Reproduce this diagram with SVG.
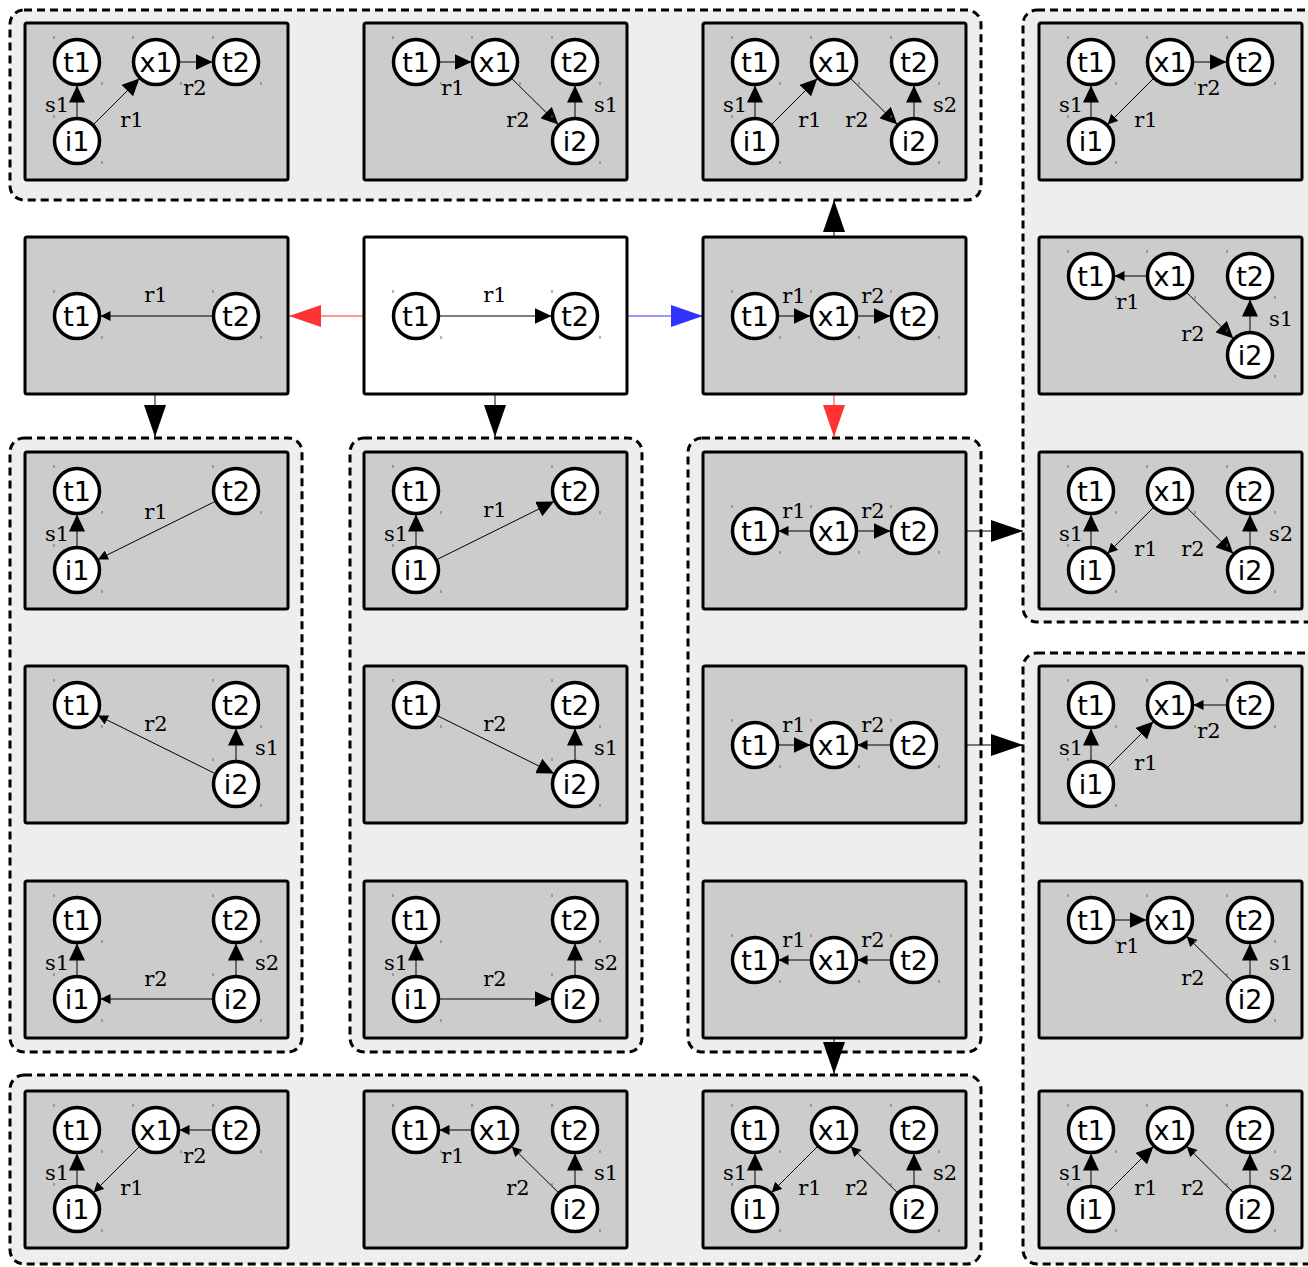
<svg xmlns="http://www.w3.org/2000/svg" width="1308" height="1267" viewBox="0 0 1308 1267">
<style>
.cl{fill:#eeeeee;stroke:#000;stroke-width:3;stroke-dasharray:8,5}
.pn{fill:#cccccc;stroke:#000;stroke-width:3}
.pw{fill:#ffffff;stroke:#000;stroke-width:3}
.n circle{fill:#fff;stroke:#000;stroke-width:3.5}
.n text{font-family:"DejaVu Sans","Noto Sans",sans-serif;font-size:27px;text-anchor:middle;fill:#000}
.tk{stroke:#666;stroke-width:1;fill:none}
.e{stroke:#000;stroke-width:1;fill:none}
.b{marker-end:url(#hb)}
.s{marker-end:url(#hs)}
.lb{font-family:"DejaVu Serif","Liberation Serif",serif;font-size:21px;text-anchor:middle;fill:#000}
.c{stroke-width:1;fill:none}
</style>
<defs>
<marker id="hb" markerUnits="userSpaceOnUse" viewBox="0 0 17 16" refX="17" refY="8" markerWidth="17" markerHeight="16" orient="auto"><path d="M0,0 L17,8 L0,16 z" fill="#000"/></marker>
<marker id="hs" markerUnits="userSpaceOnUse" viewBox="0 0 10 10" refX="10" refY="5" markerWidth="10" markerHeight="10" orient="auto"><path d="M0,0 L10,5 L0,10 z" fill="#000"/></marker>
<marker id="hk" markerUnits="userSpaceOnUse" viewBox="0 0 32 22" refX="32" refY="11" markerWidth="32" markerHeight="22" orient="auto"><path d="M0,0 L32,11 L0,22 z" fill="#000"/></marker>
<marker id="hr" markerUnits="userSpaceOnUse" viewBox="0 0 32 22" refX="32" refY="11" markerWidth="32" markerHeight="22" orient="auto"><path d="M0,0 L32,11 L0,22 z" fill="#ff3333"/></marker>
<marker id="hu" markerUnits="userSpaceOnUse" viewBox="0 0 32 22" refX="32" refY="11" markerWidth="32" markerHeight="22" orient="auto"><path d="M0,0 L32,11 L0,22 z" fill="#3333ff"/></marker>
</defs>

<g id="clusters">
<rect id="cl-top" class="cl" x="10" y="10" width="971" height="190" rx="14"/>
<rect id="cl-right1" class="cl" x="1023" y="10" width="300" height="612" rx="14"/>
<rect id="cl-left" class="cl" x="10" y="438" width="292" height="614" rx="14"/>
<rect id="cl-mid" class="cl" x="350" y="438" width="292" height="614" rx="14"/>
<rect id="cl-x1" class="cl" x="688" y="438" width="293" height="614" rx="14"/>
<rect id="cl-right2" class="cl" x="1023" y="653" width="300" height="611" rx="14"/>
<rect id="cl-bottom" class="cl" x="10" y="1075" width="971" height="189" rx="14"/>
</g>

<g id="connectors">
<line class="c" x1="364" y1="316" x2="289" y2="316" stroke="#ff3333" marker-end="url(#hr)"/>
<line class="c" x1="627" y1="316" x2="703" y2="316" stroke="#3333ff" marker-end="url(#hu)"/>
<line class="c" x1="495" y1="394" x2="495" y2="437" stroke="#000" marker-end="url(#hk)"/>
<line class="c" x1="155" y1="394" x2="155" y2="437" stroke="#000" marker-end="url(#hk)"/>
<line class="c" x1="834" y1="237" x2="834" y2="200" stroke="#000" marker-end="url(#hk)"/>
<line class="c" x1="834" y1="394" x2="834" y2="437" stroke="#ff3333" marker-end="url(#hr)"/>
<line class="c" x1="966" y1="531" x2="1023" y2="531" stroke="#000" marker-end="url(#hk)"/>
<line class="c" x1="966" y1="745" x2="1023" y2="745" stroke="#000" marker-end="url(#hk)"/>
<line class="c" x1="834" y1="1038" x2="834" y2="1074" stroke="#000" marker-end="url(#hk)"/>
</g>

<!-- top row -->
<g id="p-top0" transform="translate(25,23)">
<rect class="pn" width="263" height="157" rx="2"/>
<g class="edges"><path class="e b" d="M52,94.5 L52,62.5"/><path class="e b" d="M68.6,101.4 L114.4,55.6"/><path class="e b" d="M154.5,39 L187.5,39"/></g>
<text class="lb" x="32" y="88.5">s1</text><text class="lb" x="107" y="103.5">r1</text><text class="lb" x="170" y="71.5">r2</text>
<g id="p-top0-t1" class="n" transform="translate(52,39)"><circle r="22.5"/><path class="tk" d="M-23,-26v3M25,20v3"/><text y="10">t1</text></g>
<g id="p-top0-x1" class="n" transform="translate(131,39)"><circle r="22.5"/><path class="tk" d="M-23,-26v3M25,20v3"/><text y="10">x1</text></g>
<g id="p-top0-t2" class="n" transform="translate(211,39)"><circle r="22.5"/><path class="tk" d="M-23,-26v3M25,20v3"/><text y="10">t2</text></g>
<g id="p-top0-i1" class="n" transform="translate(52,118)"><circle r="22.5"/><path class="tk" d="M-23,-26v3M25,20v3"/><text y="10">i1</text></g>
</g>

<g id="p-top1" transform="translate(364,23)">
<rect class="pn" width="263" height="157" rx="2"/>
<g class="edges"><path class="e b" d="M75.5,39 L107.5,39"/><path class="e b" d="M147.7,55.5 L194.3,101.5"/><path class="e b" d="M211,94.5 L211,62.5"/></g>
<text class="lb" x="89" y="71.5">r1</text><text class="lb" x="154" y="103.5">r2</text><text class="lb" x="242" y="88.5">s1</text>
<g id="p-top1-t1" class="n" transform="translate(52,39)"><circle r="22.5"/><path class="tk" d="M-23,-26v3M25,20v3"/><text y="10">t1</text></g>
<g id="p-top1-x1" class="n" transform="translate(131,39)"><circle r="22.5"/><path class="tk" d="M-23,-26v3M25,20v3"/><text y="10">x1</text></g>
<g id="p-top1-t2" class="n" transform="translate(211,39)"><circle r="22.5"/><path class="tk" d="M-23,-26v3M25,20v3"/><text y="10">t2</text></g>
<g id="p-top1-i2" class="n" transform="translate(211,118)"><circle r="22.5"/><path class="tk" d="M-23,-26v3M25,20v3"/><text y="10">i2</text></g>
</g>

<g id="p-top2" transform="translate(703,23)">
<rect class="pn" width="263" height="157" rx="2"/>
<g class="edges"><path class="e b" d="M52,94.5 L52,62.5"/><path class="e b" d="M68.6,101.4 L114.4,55.6"/><path class="e b" d="M147.7,55.5 L194.3,101.5"/><path class="e b" d="M211,94.5 L211,62.5"/></g>
<text class="lb" x="32" y="88.5">s1</text><text class="lb" x="107" y="103.5">r1</text><text class="lb" x="154" y="103.5">r2</text><text class="lb" x="242" y="88.5">s2</text>
<g id="p-top2-t1" class="n" transform="translate(52,39)"><circle r="22.5"/><path class="tk" d="M-23,-26v3M25,20v3"/><text y="10">t1</text></g>
<g id="p-top2-x1" class="n" transform="translate(131,39)"><circle r="22.5"/><path class="tk" d="M-23,-26v3M25,20v3"/><text y="10">x1</text></g>
<g id="p-top2-t2" class="n" transform="translate(211,39)"><circle r="22.5"/><path class="tk" d="M-23,-26v3M25,20v3"/><text y="10">t2</text></g>
<g id="p-top2-i1" class="n" transform="translate(52,118)"><circle r="22.5"/><path class="tk" d="M-23,-26v3M25,20v3"/><text y="10">i1</text></g>
<g id="p-top2-i2" class="n" transform="translate(211,118)"><circle r="22.5"/><path class="tk" d="M-23,-26v3M25,20v3"/><text y="10">i2</text></g>
</g>

<!-- right cluster 1 -->
<g id="p-r1a" transform="translate(1039,23)">
<rect class="pn" width="263" height="157" rx="2"/>
<g class="edges"><path class="e b" d="M52,94.5 L52,62.5"/><path class="e s" d="M114.4,55.6 L68.6,101.4"/><path class="e b" d="M154.5,39 L187.5,39"/></g>
<text class="lb" x="32" y="88.5">s1</text><text class="lb" x="107" y="103.5">r1</text><text class="lb" x="170" y="71.5">r2</text>
<g id="p-r1a-t1" class="n" transform="translate(52,39)"><circle r="22.5"/><path class="tk" d="M-23,-26v3M25,20v3"/><text y="10">t1</text></g>
<g id="p-r1a-x1" class="n" transform="translate(131,39)"><circle r="22.5"/><path class="tk" d="M-23,-26v3M25,20v3"/><text y="10">x1</text></g>
<g id="p-r1a-t2" class="n" transform="translate(211,39)"><circle r="22.5"/><path class="tk" d="M-23,-26v3M25,20v3"/><text y="10">t2</text></g>
<g id="p-r1a-i1" class="n" transform="translate(52,118)"><circle r="22.5"/><path class="tk" d="M-23,-26v3M25,20v3"/><text y="10">i1</text></g>
</g>

<g id="p-r1b" transform="translate(1039,237)">
<rect class="pn" width="263" height="157" rx="2"/>
<g class="edges"><path class="e s" d="M107.5,39 L75.5,39"/><path class="e b" d="M147.7,55.5 L194.3,101.5"/><path class="e b" d="M211,94.5 L211,62.5"/></g>
<text class="lb" x="89" y="71.5">r1</text><text class="lb" x="154" y="103.5">r2</text><text class="lb" x="242" y="88.5">s1</text>
<g id="p-r1b-t1" class="n" transform="translate(52,39)"><circle r="22.5"/><path class="tk" d="M-23,-26v3M25,20v3"/><text y="10">t1</text></g>
<g id="p-r1b-x1" class="n" transform="translate(131,39)"><circle r="22.5"/><path class="tk" d="M-23,-26v3M25,20v3"/><text y="10">x1</text></g>
<g id="p-r1b-t2" class="n" transform="translate(211,39)"><circle r="22.5"/><path class="tk" d="M-23,-26v3M25,20v3"/><text y="10">t2</text></g>
<g id="p-r1b-i2" class="n" transform="translate(211,118)"><circle r="22.5"/><path class="tk" d="M-23,-26v3M25,20v3"/><text y="10">i2</text></g>
</g>

<g id="p-r1c" transform="translate(1039,452)">
<rect class="pn" width="263" height="157" rx="2"/>
<g class="edges"><path class="e b" d="M52,94.5 L52,62.5"/><path class="e s" d="M114.4,55.6 L68.6,101.4"/><path class="e b" d="M147.7,55.5 L194.3,101.5"/><path class="e b" d="M211,94.5 L211,62.5"/></g>
<text class="lb" x="32" y="88.5">s1</text><text class="lb" x="107" y="103.5">r1</text><text class="lb" x="154" y="103.5">r2</text><text class="lb" x="242" y="88.5">s2</text>
<g id="p-r1c-t1" class="n" transform="translate(52,39)"><circle r="22.5"/><path class="tk" d="M-23,-26v3M25,20v3"/><text y="10">t1</text></g>
<g id="p-r1c-x1" class="n" transform="translate(131,39)"><circle r="22.5"/><path class="tk" d="M-23,-26v3M25,20v3"/><text y="10">x1</text></g>
<g id="p-r1c-t2" class="n" transform="translate(211,39)"><circle r="22.5"/><path class="tk" d="M-23,-26v3M25,20v3"/><text y="10">t2</text></g>
<g id="p-r1c-i1" class="n" transform="translate(52,118)"><circle r="22.5"/><path class="tk" d="M-23,-26v3M25,20v3"/><text y="10">i1</text></g>
<g id="p-r1c-i2" class="n" transform="translate(211,118)"><circle r="22.5"/><path class="tk" d="M-23,-26v3M25,20v3"/><text y="10">i2</text></g>
</g>

<!-- middle row -->
<g id="p-mid0" transform="translate(25,237)">
<rect class="pn" width="263" height="157" rx="2"/>
<g class="edges"><path class="e s" d="M187.5,79 L75.5,79"/></g>
<text class="lb" x="131" y="64.5">r1</text>
<g id="p-mid0-t1" class="n" transform="translate(52,79)"><circle r="22.5"/><path class="tk" d="M-23,-26v3M25,20v3"/><text y="10">t1</text></g>
<g id="p-mid0-t2" class="n" transform="translate(211,79)"><circle r="22.5"/><path class="tk" d="M-23,-26v3M25,20v3"/><text y="10">t2</text></g>
</g>

<g id="p-main" transform="translate(364,237)">
<rect class="pw" width="263" height="157" rx="2"/>
<g class="edges"><path class="e b" d="M75.5,79 L187.5,79"/></g>
<text class="lb" x="131" y="64.5">r1</text>
<g id="p-main-t1" class="n" transform="translate(52,79)"><circle r="22.5"/><path class="tk" d="M-23,-26v3M25,20v3"/><text y="10">t1</text></g>
<g id="p-main-t2" class="n" transform="translate(211,79)"><circle r="22.5"/><path class="tk" d="M-23,-26v3M25,20v3"/><text y="10">t2</text></g>
</g>

<g id="p-mid2" transform="translate(703,237)">
<rect class="pn" width="263" height="157" rx="2"/>
<g class="edges"><path class="e b" d="M75.5,79 L107.5,79"/><path class="e b" d="M154.5,79 L187.5,79"/></g>
<text class="lb" x="91" y="65.5">r1</text><text class="lb" x="170" y="65.5">r2</text>
<g id="p-mid2-t1" class="n" transform="translate(52,79)"><circle r="22.5"/><path class="tk" d="M-23,-26v3M25,20v3"/><text y="10">t1</text></g>
<g id="p-mid2-x1" class="n" transform="translate(131,79)"><circle r="22.5"/><path class="tk" d="M-23,-26v3M25,20v3"/><text y="10">x1</text></g>
<g id="p-mid2-t2" class="n" transform="translate(211,79)"><circle r="22.5"/><path class="tk" d="M-23,-26v3M25,20v3"/><text y="10">t2</text></g>
</g>

<!-- left cluster -->
<g id="p-L2" transform="translate(25,452)">
<rect class="pn" width="263" height="157" rx="2"/>
<g class="edges"><path class="e b" d="M52,94.5 L52,62.5"/><path class="e s" d="M190,49.5 L73,107.5"/></g>
<text class="lb" x="32" y="88.5">s1</text><text class="lb" x="131" y="66.5">r1</text>
<g id="p-L2-t1" class="n" transform="translate(52,39)"><circle r="22.5"/><path class="tk" d="M-23,-26v3M25,20v3"/><text y="10">t1</text></g>
<g id="p-L2-t2" class="n" transform="translate(211,39)"><circle r="22.5"/><path class="tk" d="M-23,-26v3M25,20v3"/><text y="10">t2</text></g>
<g id="p-L2-i1" class="n" transform="translate(52,118)"><circle r="22.5"/><path class="tk" d="M-23,-26v3M25,20v3"/><text y="10">i1</text></g>
</g>

<g id="p-L3" transform="translate(25,666)">
<rect class="pn" width="263" height="157" rx="2"/>
<g class="edges"><path class="e s" d="M190,107.5 L73,49.5"/><path class="e b" d="M211,94.5 L211,62.5"/></g>
<text class="lb" x="131" y="64.5">r2</text><text class="lb" x="242" y="88.5">s1</text>
<g id="p-L3-t1" class="n" transform="translate(52,39)"><circle r="22.5"/><path class="tk" d="M-23,-26v3M25,20v3"/><text y="10">t1</text></g>
<g id="p-L3-t2" class="n" transform="translate(211,39)"><circle r="22.5"/><path class="tk" d="M-23,-26v3M25,20v3"/><text y="10">t2</text></g>
<g id="p-L3-i2" class="n" transform="translate(211,118)"><circle r="22.5"/><path class="tk" d="M-23,-26v3M25,20v3"/><text y="10">i2</text></g>
</g>

<g id="p-L4" transform="translate(25,881)">
<rect class="pn" width="263" height="157" rx="2"/>
<g class="edges"><path class="e b" d="M52,94.5 L52,62.5"/><path class="e b" d="M211,94.5 L211,62.5"/><path class="e s" d="M187.5,118 L75.5,118"/></g>
<text class="lb" x="32" y="88.5">s1</text><text class="lb" x="242" y="88.5">s2</text><text class="lb" x="131" y="104.5">r2</text>
<g id="p-L4-t1" class="n" transform="translate(52,39)"><circle r="22.5"/><path class="tk" d="M-23,-26v3M25,20v3"/><text y="10">t1</text></g>
<g id="p-L4-t2" class="n" transform="translate(211,39)"><circle r="22.5"/><path class="tk" d="M-23,-26v3M25,20v3"/><text y="10">t2</text></g>
<g id="p-L4-i1" class="n" transform="translate(52,118)"><circle r="22.5"/><path class="tk" d="M-23,-26v3M25,20v3"/><text y="10">i1</text></g>
<g id="p-L4-i2" class="n" transform="translate(211,118)"><circle r="22.5"/><path class="tk" d="M-23,-26v3M25,20v3"/><text y="10">i2</text></g>
</g>

<!-- middle cluster -->
<g id="p-M2" transform="translate(364,452)">
<rect class="pn" width="263" height="157" rx="2"/>
<g class="edges"><path class="e b" d="M52,94.5 L52,62.5"/><path class="e b" d="M73,107.5 L190,49.5"/></g>
<text class="lb" x="32" y="88.5">s1</text><text class="lb" x="131" y="64.5">r1</text>
<g id="p-M2-t1" class="n" transform="translate(52,39)"><circle r="22.5"/><path class="tk" d="M-23,-26v3M25,20v3"/><text y="10">t1</text></g>
<g id="p-M2-t2" class="n" transform="translate(211,39)"><circle r="22.5"/><path class="tk" d="M-23,-26v3M25,20v3"/><text y="10">t2</text></g>
<g id="p-M2-i1" class="n" transform="translate(52,118)"><circle r="22.5"/><path class="tk" d="M-23,-26v3M25,20v3"/><text y="10">i1</text></g>
</g>

<g id="p-M3" transform="translate(364,666)">
<rect class="pn" width="263" height="157" rx="2"/>
<g class="edges"><path class="e b" d="M73,49.5 L190,107.5"/><path class="e b" d="M211,94.5 L211,62.5"/></g>
<text class="lb" x="131" y="64.5">r2</text><text class="lb" x="242" y="88.5">s1</text>
<g id="p-M3-t1" class="n" transform="translate(52,39)"><circle r="22.5"/><path class="tk" d="M-23,-26v3M25,20v3"/><text y="10">t1</text></g>
<g id="p-M3-t2" class="n" transform="translate(211,39)"><circle r="22.5"/><path class="tk" d="M-23,-26v3M25,20v3"/><text y="10">t2</text></g>
<g id="p-M3-i2" class="n" transform="translate(211,118)"><circle r="22.5"/><path class="tk" d="M-23,-26v3M25,20v3"/><text y="10">i2</text></g>
</g>

<g id="p-M4" transform="translate(364,881)">
<rect class="pn" width="263" height="157" rx="2"/>
<g class="edges"><path class="e b" d="M52,94.5 L52,62.5"/><path class="e b" d="M211,94.5 L211,62.5"/><path class="e b" d="M75.5,118 L187.5,118"/></g>
<text class="lb" x="32" y="88.5">s1</text><text class="lb" x="242" y="88.5">s2</text><text class="lb" x="131" y="104.5">r2</text>
<g id="p-M4-t1" class="n" transform="translate(52,39)"><circle r="22.5"/><path class="tk" d="M-23,-26v3M25,20v3"/><text y="10">t1</text></g>
<g id="p-M4-t2" class="n" transform="translate(211,39)"><circle r="22.5"/><path class="tk" d="M-23,-26v3M25,20v3"/><text y="10">t2</text></g>
<g id="p-M4-i1" class="n" transform="translate(52,118)"><circle r="22.5"/><path class="tk" d="M-23,-26v3M25,20v3"/><text y="10">i1</text></g>
<g id="p-M4-i2" class="n" transform="translate(211,118)"><circle r="22.5"/><path class="tk" d="M-23,-26v3M25,20v3"/><text y="10">i2</text></g>
</g>

<!-- x1 cluster -->
<g id="p-X2" transform="translate(703,452)">
<rect class="pn" width="263" height="157" rx="2"/>
<g class="edges"><path class="e s" d="M107.5,79 L75.5,79"/><path class="e b" d="M154.5,79 L187.5,79"/></g>
<text class="lb" x="91" y="65.5">r1</text><text class="lb" x="170" y="65.5">r2</text>
<g id="p-X2-t1" class="n" transform="translate(52,79)"><circle r="22.5"/><path class="tk" d="M-23,-26v3M25,20v3"/><text y="10">t1</text></g>
<g id="p-X2-x1" class="n" transform="translate(131,79)"><circle r="22.5"/><path class="tk" d="M-23,-26v3M25,20v3"/><text y="10">x1</text></g>
<g id="p-X2-t2" class="n" transform="translate(211,79)"><circle r="22.5"/><path class="tk" d="M-23,-26v3M25,20v3"/><text y="10">t2</text></g>
</g>

<g id="p-X3" transform="translate(703,666)">
<rect class="pn" width="263" height="157" rx="2"/>
<g class="edges"><path class="e b" d="M75.5,79 L107.5,79"/><path class="e s" d="M187.5,79 L154.5,79"/></g>
<text class="lb" x="91" y="65.5">r1</text><text class="lb" x="170" y="65.5">r2</text>
<g id="p-X3-t1" class="n" transform="translate(52,79)"><circle r="22.5"/><path class="tk" d="M-23,-26v3M25,20v3"/><text y="10">t1</text></g>
<g id="p-X3-x1" class="n" transform="translate(131,79)"><circle r="22.5"/><path class="tk" d="M-23,-26v3M25,20v3"/><text y="10">x1</text></g>
<g id="p-X3-t2" class="n" transform="translate(211,79)"><circle r="22.5"/><path class="tk" d="M-23,-26v3M25,20v3"/><text y="10">t2</text></g>
</g>

<g id="p-X4" transform="translate(703,881)">
<rect class="pn" width="263" height="157" rx="2"/>
<g class="edges"><path class="e s" d="M107.5,79 L75.5,79"/><path class="e s" d="M187.5,79 L154.5,79"/></g>
<text class="lb" x="91" y="65.5">r1</text><text class="lb" x="170" y="65.5">r2</text>
<g id="p-X4-t1" class="n" transform="translate(52,79)"><circle r="22.5"/><path class="tk" d="M-23,-26v3M25,20v3"/><text y="10">t1</text></g>
<g id="p-X4-x1" class="n" transform="translate(131,79)"><circle r="22.5"/><path class="tk" d="M-23,-26v3M25,20v3"/><text y="10">x1</text></g>
<g id="p-X4-t2" class="n" transform="translate(211,79)"><circle r="22.5"/><path class="tk" d="M-23,-26v3M25,20v3"/><text y="10">t2</text></g>
</g>

<!-- right cluster 2 -->
<g id="p-r2a" transform="translate(1039,666)">
<rect class="pn" width="263" height="157" rx="2"/>
<g class="edges"><path class="e b" d="M52,94.5 L52,62.5"/><path class="e b" d="M68.6,101.4 L114.4,55.6"/><path class="e s" d="M187.5,39 L154.5,39"/></g>
<text class="lb" x="32" y="88.5">s1</text><text class="lb" x="107" y="103.5">r1</text><text class="lb" x="170" y="71.5">r2</text>
<g id="p-r2a-t1" class="n" transform="translate(52,39)"><circle r="22.5"/><path class="tk" d="M-23,-26v3M25,20v3"/><text y="10">t1</text></g>
<g id="p-r2a-x1" class="n" transform="translate(131,39)"><circle r="22.5"/><path class="tk" d="M-23,-26v3M25,20v3"/><text y="10">x1</text></g>
<g id="p-r2a-t2" class="n" transform="translate(211,39)"><circle r="22.5"/><path class="tk" d="M-23,-26v3M25,20v3"/><text y="10">t2</text></g>
<g id="p-r2a-i1" class="n" transform="translate(52,118)"><circle r="22.5"/><path class="tk" d="M-23,-26v3M25,20v3"/><text y="10">i1</text></g>
</g>

<g id="p-r2b" transform="translate(1039,881)">
<rect class="pn" width="263" height="157" rx="2"/>
<g class="edges"><path class="e b" d="M75.5,39 L107.5,39"/><path class="e s" d="M194.3,101.5 L147.7,55.5"/><path class="e b" d="M211,94.5 L211,62.5"/></g>
<text class="lb" x="89" y="71.5">r1</text><text class="lb" x="154" y="103.5">r2</text><text class="lb" x="242" y="88.5">s1</text>
<g id="p-r2b-t1" class="n" transform="translate(52,39)"><circle r="22.5"/><path class="tk" d="M-23,-26v3M25,20v3"/><text y="10">t1</text></g>
<g id="p-r2b-x1" class="n" transform="translate(131,39)"><circle r="22.5"/><path class="tk" d="M-23,-26v3M25,20v3"/><text y="10">x1</text></g>
<g id="p-r2b-t2" class="n" transform="translate(211,39)"><circle r="22.5"/><path class="tk" d="M-23,-26v3M25,20v3"/><text y="10">t2</text></g>
<g id="p-r2b-i2" class="n" transform="translate(211,118)"><circle r="22.5"/><path class="tk" d="M-23,-26v3M25,20v3"/><text y="10">i2</text></g>
</g>

<g id="p-r2c" transform="translate(1039,1091)">
<rect class="pn" width="263" height="157" rx="2"/>
<g class="edges"><path class="e b" d="M52,94.5 L52,62.5"/><path class="e b" d="M68.6,101.4 L114.4,55.6"/><path class="e s" d="M194.3,101.5 L147.7,55.5"/><path class="e b" d="M211,94.5 L211,62.5"/></g>
<text class="lb" x="32" y="88.5">s1</text><text class="lb" x="107" y="103.5">r1</text><text class="lb" x="154" y="103.5">r2</text><text class="lb" x="242" y="88.5">s2</text>
<g id="p-r2c-t1" class="n" transform="translate(52,39)"><circle r="22.5"/><path class="tk" d="M-23,-26v3M25,20v3"/><text y="10">t1</text></g>
<g id="p-r2c-x1" class="n" transform="translate(131,39)"><circle r="22.5"/><path class="tk" d="M-23,-26v3M25,20v3"/><text y="10">x1</text></g>
<g id="p-r2c-t2" class="n" transform="translate(211,39)"><circle r="22.5"/><path class="tk" d="M-23,-26v3M25,20v3"/><text y="10">t2</text></g>
<g id="p-r2c-i1" class="n" transform="translate(52,118)"><circle r="22.5"/><path class="tk" d="M-23,-26v3M25,20v3"/><text y="10">i1</text></g>
<g id="p-r2c-i2" class="n" transform="translate(211,118)"><circle r="22.5"/><path class="tk" d="M-23,-26v3M25,20v3"/><text y="10">i2</text></g>
</g>

<!-- bottom cluster -->
<g id="p-B0" transform="translate(25,1091)">
<rect class="pn" width="263" height="157" rx="2"/>
<g class="edges"><path class="e b" d="M52,94.5 L52,62.5"/><path class="e s" d="M114.4,55.6 L68.6,101.4"/><path class="e s" d="M187.5,39 L154.5,39"/></g>
<text class="lb" x="32" y="88.5">s1</text><text class="lb" x="107" y="103.5">r1</text><text class="lb" x="170" y="71.5">r2</text>
<g id="p-B0-t1" class="n" transform="translate(52,39)"><circle r="22.5"/><path class="tk" d="M-23,-26v3M25,20v3"/><text y="10">t1</text></g>
<g id="p-B0-x1" class="n" transform="translate(131,39)"><circle r="22.5"/><path class="tk" d="M-23,-26v3M25,20v3"/><text y="10">x1</text></g>
<g id="p-B0-t2" class="n" transform="translate(211,39)"><circle r="22.5"/><path class="tk" d="M-23,-26v3M25,20v3"/><text y="10">t2</text></g>
<g id="p-B0-i1" class="n" transform="translate(52,118)"><circle r="22.5"/><path class="tk" d="M-23,-26v3M25,20v3"/><text y="10">i1</text></g>
</g>

<g id="p-B1" transform="translate(364,1091)">
<rect class="pn" width="263" height="157" rx="2"/>
<g class="edges"><path class="e s" d="M107.5,39 L75.5,39"/><path class="e s" d="M194.3,101.5 L147.7,55.5"/><path class="e b" d="M211,94.5 L211,62.5"/></g>
<text class="lb" x="89" y="71.5">r1</text><text class="lb" x="154" y="103.5">r2</text><text class="lb" x="242" y="88.5">s1</text>
<g id="p-B1-t1" class="n" transform="translate(52,39)"><circle r="22.5"/><path class="tk" d="M-23,-26v3M25,20v3"/><text y="10">t1</text></g>
<g id="p-B1-x1" class="n" transform="translate(131,39)"><circle r="22.5"/><path class="tk" d="M-23,-26v3M25,20v3"/><text y="10">x1</text></g>
<g id="p-B1-t2" class="n" transform="translate(211,39)"><circle r="22.5"/><path class="tk" d="M-23,-26v3M25,20v3"/><text y="10">t2</text></g>
<g id="p-B1-i2" class="n" transform="translate(211,118)"><circle r="22.5"/><path class="tk" d="M-23,-26v3M25,20v3"/><text y="10">i2</text></g>
</g>

<g id="p-B2" transform="translate(703,1091)">
<rect class="pn" width="263" height="157" rx="2"/>
<g class="edges"><path class="e b" d="M52,94.5 L52,62.5"/><path class="e s" d="M114.4,55.6 L68.6,101.4"/><path class="e s" d="M194.3,101.5 L147.7,55.5"/><path class="e b" d="M211,94.5 L211,62.5"/></g>
<text class="lb" x="32" y="88.5">s1</text><text class="lb" x="107" y="103.5">r1</text><text class="lb" x="154" y="103.5">r2</text><text class="lb" x="242" y="88.5">s2</text>
<g id="p-B2-t1" class="n" transform="translate(52,39)"><circle r="22.5"/><path class="tk" d="M-23,-26v3M25,20v3"/><text y="10">t1</text></g>
<g id="p-B2-x1" class="n" transform="translate(131,39)"><circle r="22.5"/><path class="tk" d="M-23,-26v3M25,20v3"/><text y="10">x1</text></g>
<g id="p-B2-t2" class="n" transform="translate(211,39)"><circle r="22.5"/><path class="tk" d="M-23,-26v3M25,20v3"/><text y="10">t2</text></g>
<g id="p-B2-i1" class="n" transform="translate(52,118)"><circle r="22.5"/><path class="tk" d="M-23,-26v3M25,20v3"/><text y="10">i1</text></g>
<g id="p-B2-i2" class="n" transform="translate(211,118)"><circle r="22.5"/><path class="tk" d="M-23,-26v3M25,20v3"/><text y="10">i2</text></g>
</g>
</svg>
